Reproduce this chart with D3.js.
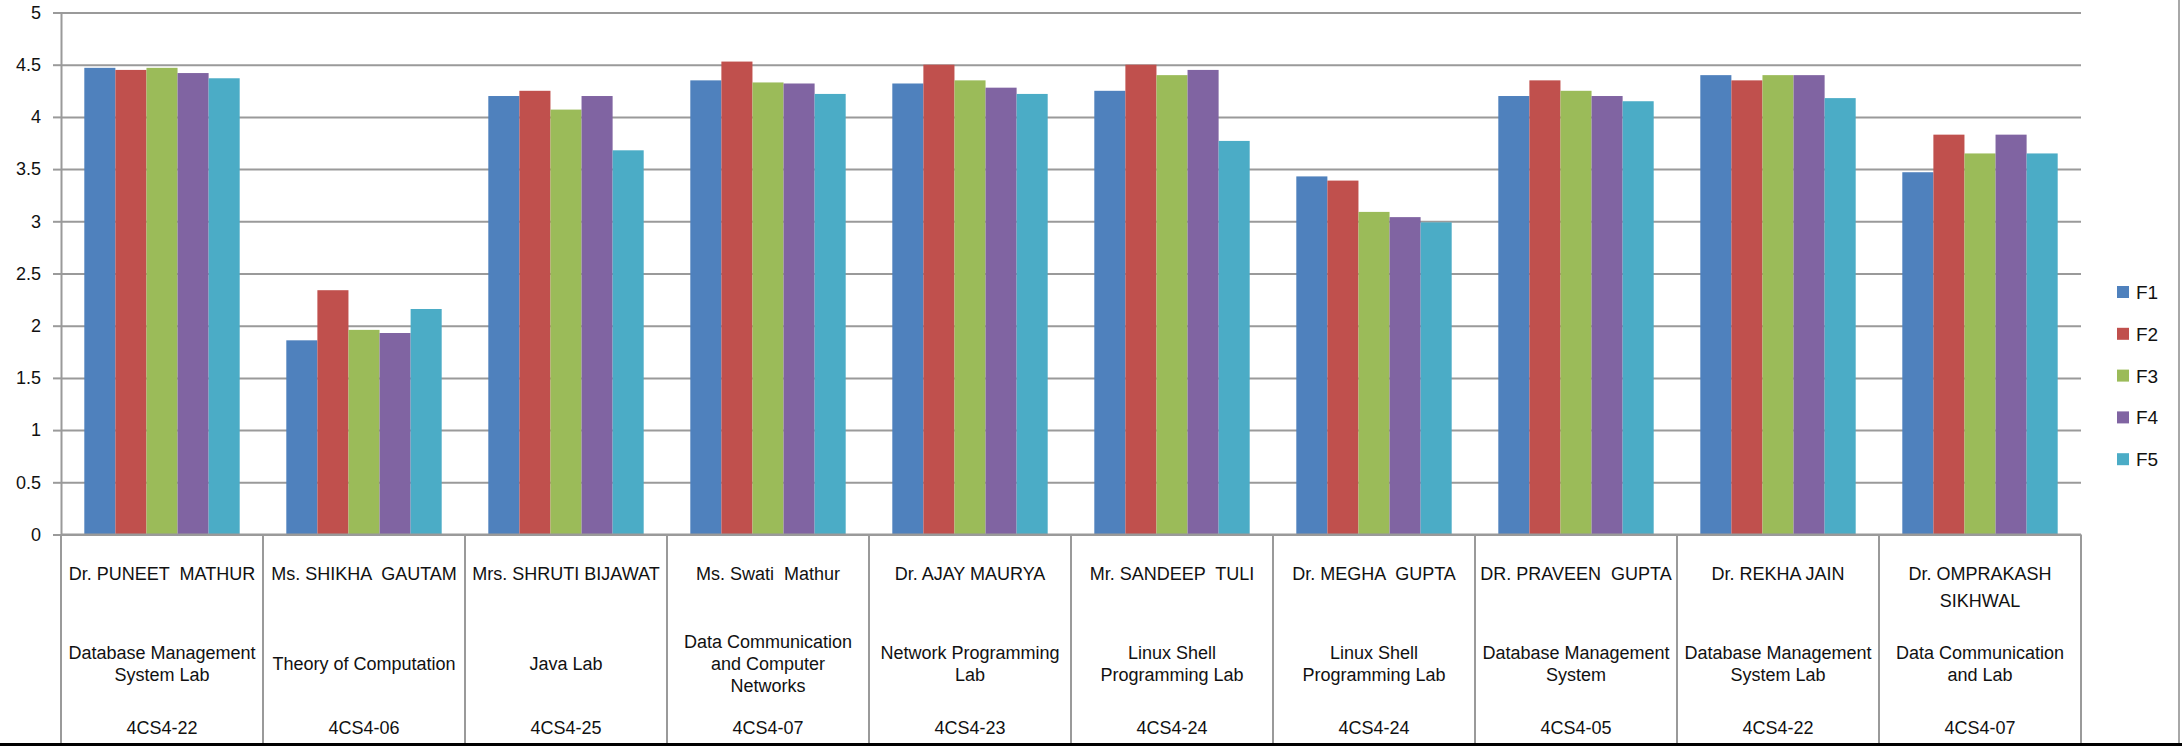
<!DOCTYPE html>
<html>
<head>
<meta charset="utf-8">
<script src="https://cdn.jsdelivr.net/npm/d3@7"></script>
<style>
  html, body { margin: 0; padding: 0; background: #fff; }
  svg { display: block; }
  text { font-family: "Liberation Sans", Arial, sans-serif; fill: #111; white-space: pre; }
</style>
</head>
<body>
<script>
// ---- data ----
const teachers = ["Dr. PUNEET  MATHUR", "Ms. SHIKHA  GAUTAM", "Mrs. SHRUTI BIJAWAT", "Ms. Swati  Mathur",
  "Dr. AJAY MAURYA", "Mr. SANDEEP  TULI", "Dr. MEGHA  GUPTA", "DR. PRAVEEN  GUPTA", "Dr. REKHA JAIN",
  "Dr. OMPRAKASH\nSIKHWAL"];
const subjects = ["Database Management System Lab", "Theory of Computation", "Java Lab",
  "Data Communication and Computer Networks", "Network Programming Lab", "Linux Shell Programming Lab",
  "Linux Shell Programming Lab", "Database Management System", "Database Management System Lab",
  "Data Communication and Lab"];
const codes = ["4CS4-22", "4CS4-06", "4CS4-25", "4CS4-07", "4CS4-23", "4CS4-24", "4CS4-24", "4CS4-05", "4CS4-22", "4CS4-07"];
const seriesNames = ["F1", "F2", "F3", "F4", "F5"];
const F1 = [4.47, 1.86, 4.20, 4.35, 4.32, 4.25, 3.43, 4.20, 4.40, 3.47];
const F2 = [4.45, 2.34, 4.25, 4.53, 4.50, 4.50, 3.39, 4.35, 4.35, 3.83];
const F3 = [4.47, 1.96, 4.07, 4.33, 4.35, 4.40, 3.09, 4.25, 4.40, 3.65];
const F4 = [4.42, 1.93, 4.20, 4.32, 4.28, 4.45, 3.04, 4.20, 4.40, 3.83];
const F5 = [4.37, 2.16, 3.68, 4.22, 4.22, 3.77, 2.99, 4.15, 4.18, 3.65];
const yTicks = [0, 0.5, 1, 1.5, 2, 2.5, 3, 3.5, 4, 4.5, 5];
const yTickLabels = ["0", "0.5", "1", "1.5", "2", "2.5", "3", "3.5", "4", "4.5", "5"];
const colors = ["#4F81BD", "#C0504D", "#9BBB59", "#8064A2", "#4BACC6"];

const seriesValues = [F1, F2, F3, F4, F5];
const W = 2182, H = 746;
const plot = { left: 61, right: 2081, top: 12.5, bottom: 534.5 };

const svg = d3.select("body").append("svg").attr("width", W).attr("height", H);

const idx = d3.range(teachers.length);
const x = d3.scaleBand().domain(idx).range([plot.left, plot.right]).paddingInner(0).paddingOuter(0);
const xs = d3.scaleBand().domain(seriesNames).range([0, x.bandwidth()]).paddingInner(0).paddingOuter(0.75);
const y = d3.scaleLinear().domain([0, 5]).range([plot.bottom, plot.top]);

// gridlines
const grid = svg.append("g").attr("transform", `translate(${plot.left},0)`)
  .call(d3.axisLeft(y).tickValues(yTicks).tickSize(-(plot.right - plot.left)).tickFormat(""));
grid.select(".domain").remove();
grid.selectAll("line").attr("stroke", "#9a9a9a").attr("stroke-width", 2);

// y axis with tick labels
const yAxis = svg.append("g").attr("transform", `translate(${plot.left},0)`)
  .call(d3.axisLeft(y).tickValues(yTicks).tickSize(8).tickPadding(12)
    .tickFormat((d, i) => yTickLabels[i]));
yAxis.select(".domain").attr("stroke", "#9a9a9a").attr("stroke-width", 2);
yAxis.selectAll("line").attr("stroke", "#9a9a9a").attr("stroke-width", 2);
yAxis.selectAll("text").style("font-size", "18px").style("font-family", '"Liberation Sans", Arial, sans-serif').attr("fill", "#111");

// bars
const groups = svg.append("g").selectAll("g").data(idx).join("g")
  .attr("transform", d => `translate(${x(d)},0)`);
groups.selectAll("rect")
  .data(d => seriesNames.map((s, j) => ({ s, j, v: seriesValues[j][d] })))
  .join("rect")
  .attr("x", d => xs(d.s))
  .attr("width", xs.bandwidth())
  .attr("y", d => y(d.v))
  .attr("height", d => y(0) - y(d.v))
  .attr("fill", d => colors[d.j]);

// x axis line
svg.append("line").attr("x1", plot.left).attr("x2", plot.right)
  .attr("y1", y(0)).attr("y2", y(0)).attr("stroke", "#9a9a9a").attr("stroke-width", 2);

// table vertical lines
const bounds = idx.map(d => x(d)).concat([plot.right]);
svg.append("g").selectAll("line").data(bounds).join("line")
  .attr("x1", d => d).attr("x2", d => d)
  .attr("y1", y(0)).attr("y2", 743)
  .attr("stroke", "#9a9a9a").attr("stroke-width", 2);

// table text
const cx = d => x(d) + x.bandwidth() / 2;
const maxW = x.bandwidth() - 12;

function wrapLines(str, size) {
  const probe = svg.append("text").style("font-size", size + "px");
  const words = str.split(" ");
  const lines = [];
  let cur = "";
  words.forEach(w => {
    const test = cur ? cur + " " + w : w;
    probe.text(test);
    if (probe.node().getComputedTextLength() > maxW && cur) { lines.push(cur); cur = w; }
    else cur = test;
  });
  if (cur) lines.push(cur);
  probe.remove();
  return lines;
}

// names
const nameG = svg.append("g");
idx.forEach(d => {
  const lines = teachers[d].split("\n");
  lines.forEach((ln, k) => {
    nameG.append("text").attr("x", cx(d)).attr("y", 580 + k * 27)
      .attr("text-anchor", "middle").style("font-size", "18px").text(ln);
  });
});

// subjects (wrapped inside the cell, centred on the row)
const subjG = svg.append("g");
idx.forEach(d => {
  const lines = wrapLines(subjects[d], 18);
  const lh = 22;
  const first = 670 - (lines.length - 1) * lh / 2;
  lines.forEach((ln, k) => {
    subjG.append("text").attr("x", cx(d)).attr("y", first + k * lh)
      .attr("text-anchor", "middle").style("font-size", "18px").text(ln);
  });
});

// codes
svg.append("g").selectAll("text").data(idx).join("text")
  .attr("x", cx).attr("y", 734).attr("text-anchor", "middle")
  .style("font-size", "18px").text(d => codes[d]);

// legend
const leg = svg.append("g").selectAll("g").data(seriesNames).join("g")
  .attr("transform", (d, i) => `translate(2117,${292 + i * 41.8})`);
leg.append("rect").attr("x", 0).attr("y", -6).attr("width", 12).attr("height", 12)
  .attr("fill", (d, i) => colors[i]);
leg.append("text").attr("x", 19).attr("y", 7).style("font-size", "19px").text(d => d);

// right border and bottom band
svg.append("line").attr("x1", 2179).attr("x2", 2179).attr("y1", 0).attr("y2", H)
  .attr("stroke", "#a8a8a8").attr("stroke-width", 2);
svg.append("rect").attr("x", 0).attr("y", 743).attr("width", W).attr("height", 3).attr("fill", "#000");
</script>
</body>
</html>
